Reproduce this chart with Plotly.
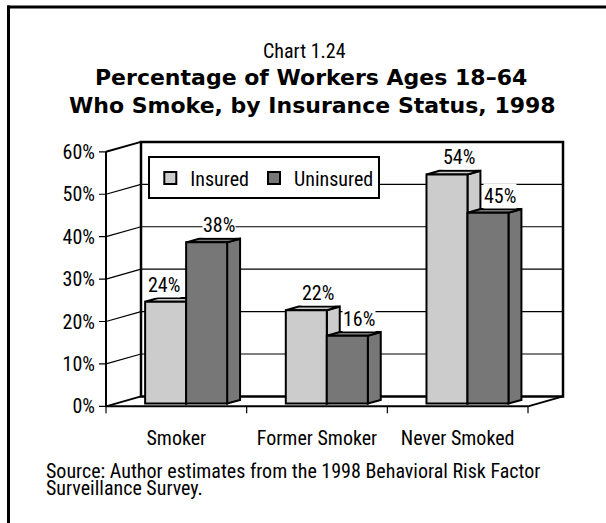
import plotly.graph_objects as go

# ---- data -------------------------------------------------------------
CATEGORIES = ["Smoker", "Former Smoker", "Never Smoked"]
SERIES = ["Insured", "Uninsured"]
INSURED = [24, 22, 54]
UNINSURED = [38, 16, 45]
Y_TICKS = [0, 10, 20, 30, 40, 50, 60]
Y_TICK_TEXT = ["0%", "10%", "20%", "30%", "40%", "50%", "60%"]
SOURCE_LINES = ["Source: Author estimates from the 1998 Behavioral Risk Factor",
                "Surveillance Survey."]

# ---- styling / geometry ----------------------------------------------
W, H = 606, 523
NARROW = "Roboto Condensed, Liberation Sans, sans-serif"
BOLD = "DejaVu Sans, Verdana, sans-serif"
COLORS = {"Insured": "#cccccc", "Uninsured": "#777777"}
FS = 20               # body text size

U = 140.67            # pixels per category slot
V = 256.0 / 60.0      # pixels per percentage point
X_PX0 = 106.0         # pixel column of the front-left corner
Y_PX0 = 408.7         # pixel row of the front floor
DX = 35.0 / U         # depth offset of the back wall, in axis units
DY = 10.0 / V
YMAX = 60

FZ = 0.28             # depth at which the bar front faces sit
BD = 0.37             # depth of each bar
BAR_W = 41.0 / U      # width of one bar

x_range = [-0.5 - 10.0 / U, 2.5 + DX + 3.0 / U]
y_range = [-9.0 / V, YMAX + DY + 3.0 / V]


def px_x(x):
    return X_PX0 + (x + 0.5) * U


def px_y(y):
    return Y_PX0 - y * V


x_dom = [px_x(x_range[0]) / W, px_x(x_range[1]) / W]
y_dom = [(H - px_y(y_range[0])) / H, (H - px_y(y_range[1])) / H]

fig = go.Figure()

# front faces of the bars
series_values = {"Insured": INSURED, "Uninsured": UNINSURED}
for k, name in enumerate(SERIES):
    fig.add_trace(go.Bar(
        name=name,
        x=[i + FZ * DX for i in range(len(CATEGORIES))],
        y=series_values[name],
        base=FZ * DY,
        width=BAR_W,
        offset=-BAR_W if k == 0 else 0,
        marker=dict(color=COLORS[name], line=dict(color="black", width=2)),
        hoverinfo="skip",
    ))

shapes = []


def path(pts):
    return "M " + " L ".join(f"{x},{y}" for x, y in pts) + " Z"


def line(x0, y0, x1, y1, w=1.0):
    shapes.append(dict(type="line", xref="x", yref="y", x0=x0, y0=y0,
                       x1=x1, y1=y1, layer="below",
                       line=dict(color="black", width=w)))


left = -0.5
right = len(CATEGORIES) - 0.5

# gridlines on the back wall and the left side wall
for t in Y_TICKS:
    if 0 < t < YMAX:
        line(left + DX, t + DY, right + DX, t + DY, 1.2)
    line(left, t, left + DX, t + DY, 1.2 if t not in (0, YMAX) else 2)

# back wall outline
shapes.append(dict(type="rect", xref="x", yref="y", layer="below",
                   x0=left + DX, y0=DY, x1=right + DX, y1=YMAX + DY,
                   line=dict(color="black", width=2.5)))
# front axis, front floor edge, right floor edge
line(left, 0, left, YMAX, 2)
line(left, 0, right, 0, 2)
line(right, 0, right + DX, DY, 2)

# tick marks
for t in Y_TICKS:
    line(left - 7.0 / U, t, left, t, 1.2)
for j in range(len(CATEGORIES) + 1):
    line(left + j, 0, left + j, -7.0 / V, 1.2)

# side and top faces of the bars
for i in range(len(CATEGORIES)):
    for k, name in enumerate(SERIES):
        v = series_values[name][i]
        x0 = i + FZ * DX - BAR_W + k * BAR_W
        x1 = x0 + BAR_W
        b = FZ * DY
        t = b + v
        ddx, ddy = BD * DX, BD * DY
        side = [(x1, b), (x1 + ddx, b + ddy), (x1 + ddx, t + ddy), (x1, t)]
        top = [(x0, t), (x1, t), (x1 + ddx, t + ddy), (x0 + ddx, t + ddy)]
        for poly in (side, top):
            shapes.append(dict(type="path", xref="x", yref="y", layer="below",
                               path=path(poly), fillcolor=COLORS[name],
                               line=dict(color="black", width=2)))

# outer frame of the exhibit
shapes.append(dict(type="line", xref="paper", yref="paper",
                   x0=7 / W, y0=(H - 7) / H, x1=1.05, y1=(H - 7) / H,
                   line=dict(color="black", width=3)))
shapes.append(dict(type="line", xref="paper", yref="paper",
                   x0=8.5 / W, y0=(H - 5.5) / H, x1=8.5 / W, y1=-0.05,
                   line=dict(color="black", width=3)))

annotations = []

# value labels
LABEL_NUDGE = {("Insured", 0): -14}
for i in range(len(CATEGORIES)):
    for k, name in enumerate(SERIES):
        v = series_values[name][i]
        cx = i + FZ * DX - BAR_W / 2 + k * BAR_W
        annotations.append(dict(
            x=cx, y=FZ * DY + v, xref="x", yref="y", text=f"{v}%",
            showarrow=False, xshift=12 + LABEL_NUDGE.get((name, i), 0),
            yshift=17, bgcolor="white", borderpad=0,
            font=dict(family=NARROW, size=FS, color="black")))


def text_px(txt, x, y, font, size, anchor="center", bold=False):
    annotations.append(dict(
        x=x / W, y=(H - y) / H, xref="paper", yref="paper", text=txt,
        showarrow=False, xanchor=anchor, yanchor="middle", align=anchor,
        font=dict(family=font, size=size, color="black",
                  weight="bold" if bold else "normal")))


text_px("Chart 1.24", 304, 51, NARROW, FS)
text_px("Percentage of Workers Ages 18\u201364", 311, 77.5, BOLD, 22, bold=True)
text_px("Who Smoke, by Insurance Status, 1998", 312, 106.5, BOLD, 22, bold=True)
# tight two-line source note: small base size sets the line pitch,
# the spans carry the visible glyph size
source_html = "<br>".join(
    f'<span style="font-size:{FS}px">{s}</span>' for s in SOURCE_LINES)
text_px(source_html, 44, 482.5, NARROW, 12.7, anchor="left")

fig.update_layout(
    width=W, height=H, autosize=False,
    margin=dict(l=0, r=0, t=0, b=0),
    paper_bgcolor="white", plot_bgcolor="rgba(0,0,0,0)",
    barmode="overlay",
    shapes=shapes, annotations=annotations,
    showlegend=True,
    legend=dict(orientation="h", x=148.3 / W, y=(H - 157.3) / H,
                xanchor="left", yanchor="top", bgcolor="white",
                bordercolor="black", borderwidth=2,
                font=dict(family=NARROW, size=FS, color="black"),
                traceorder="normal"),
    xaxis=dict(domain=x_dom, range=x_range, showgrid=False, zeroline=False,
               showline=False, ticks="", tickvals=list(range(len(CATEGORIES))),
               ticktext=CATEGORIES, ticklabelstandoff=9,
               tickfont=dict(family=NARROW, size=FS, color="black"),
               fixedrange=True),
    yaxis=dict(domain=y_dom, range=y_range, showgrid=False, zeroline=False,
               showline=False, ticks="", tickvals=Y_TICKS,
               ticktext=Y_TICK_TEXT,
               tickfont=dict(family=NARROW, size=FS, color="black"),
               fixedrange=True),
)

fig.write_html("out.html")
